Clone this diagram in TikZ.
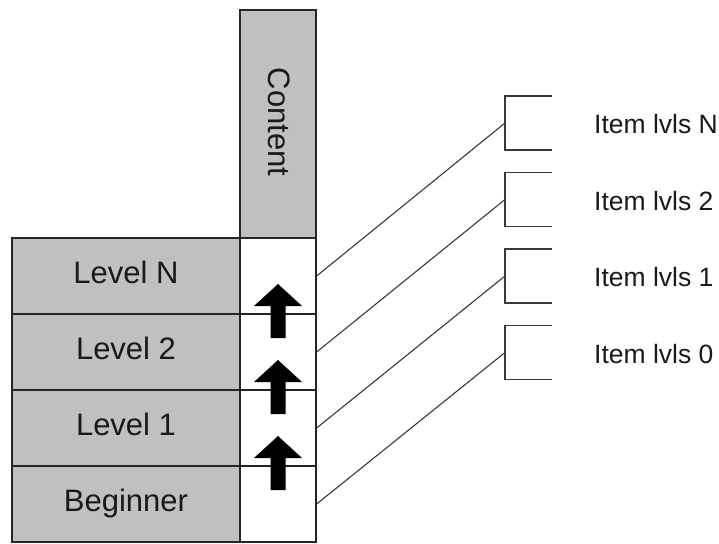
\documentclass[tikz,border=0pt]{standalone}
\usepackage{fontspec}
\setmainfont{Liberation Sans}
\definecolor{boxgray}{HTML}{C0C0C0}
\definecolor{linegray}{HTML}{383838}
\begin{document}
\begin{tikzpicture}[x=1pt,y=-1pt,
  cell/.style={draw=black!85, line width=1.3pt, inner sep=0pt, minimum height=76pt},
  lvl/.style={cell, fill=boxgray, minimum width=228pt},
  whitecell/.style={cell, fill=white, minimum width=76pt},
  lvltxt/.style={inner sep=0pt, anchor=base, text=black!90, font=\fontsize{31}{37}\selectfont},
  itemtxt/.style={inner sep=0pt, anchor=base west, text=black!90, font=\fontsize{26.5}{32}\selectfont},
  link/.style={draw=linegray, line width=1.1pt},
  bracketline/.style={draw=linegray, line width=1.5pt},
  uparrow/.style={fill=black}
]
\useasboundingbox (0,0) rectangle (719,543);

% content column
\node[cell, fill=boxgray, minimum width=76pt, minimum height=228pt] (content) at (278,124) {};
\node[rotate=-90, inner sep=0pt, text=black!90, font=\fontsize{31}{37}\selectfont] (contenttxt) at (279,122) {Content};

% level rows
\node[lvl] (lN) at (126,276) {};
\node[lvl] (l2) at (126,352) {};
\node[lvl] (l1) at (126,428) {};
\node[lvl] (l0) at (126,504) {};
\node[lvltxt] (tlN) at (126,283.5) {Level N};
\node[lvltxt] (tl2) at (126,359.5) {Level 2};
\node[lvltxt] (tl1) at (126,435.5) {Level 1};
\node[lvltxt] (tl0) at (126,511.5) {Beginner};

% white cells
\node[whitecell] (cN) at (278,276) {};
\node[whitecell] (c2) at (278,352) {};
\node[whitecell] (c1) at (278,428) {};
\node[whitecell] (c0) at (278,504) {};

% up arrows across the row boundaries
\foreach \b in {314,390,466}{
  \fill[uparrow] (278,\b-30) -- (302,\b-8) -- (285.5,\b-8) -- (285.5,\b+24)
     -- (270.5,\b+24) -- (270.5,\b-8) -- (254,\b-8) -- cycle;
}

% bracket anchor points
\coordinate (bN) at (505,123);
\coordinate (b2) at (505,199.5);
\coordinate (b1) at (505,276);
\coordinate (b0) at (505,352.5);

\foreach \c in {bN,b2,b1,b0}{
  \draw[bracketline] ([shift={(47,-27)}]\c) -- ([shift={(0,-27)}]\c)
      -- ([shift={(0,27)}]\c) -- ([shift={(47,27)}]\c);
}

% connectors
\draw[link] (cN.east) -- (bN);
\draw[link] (c2.east) -- (b2);
\draw[link] (c1.east) -- (b1);
\draw[link] (c0.east) -- (b0);

% item labels
\node[itemtxt] (iN) at (594,133.5) {Item lvls N};
\node[itemtxt] (i2) at (594,210) {Item lvls 2};
\node[itemtxt] (i1) at (594,286.5) {Item lvls 1};
\node[itemtxt] (i0) at (594,363) {Item lvls 0};
\end{tikzpicture}
\end{document}
